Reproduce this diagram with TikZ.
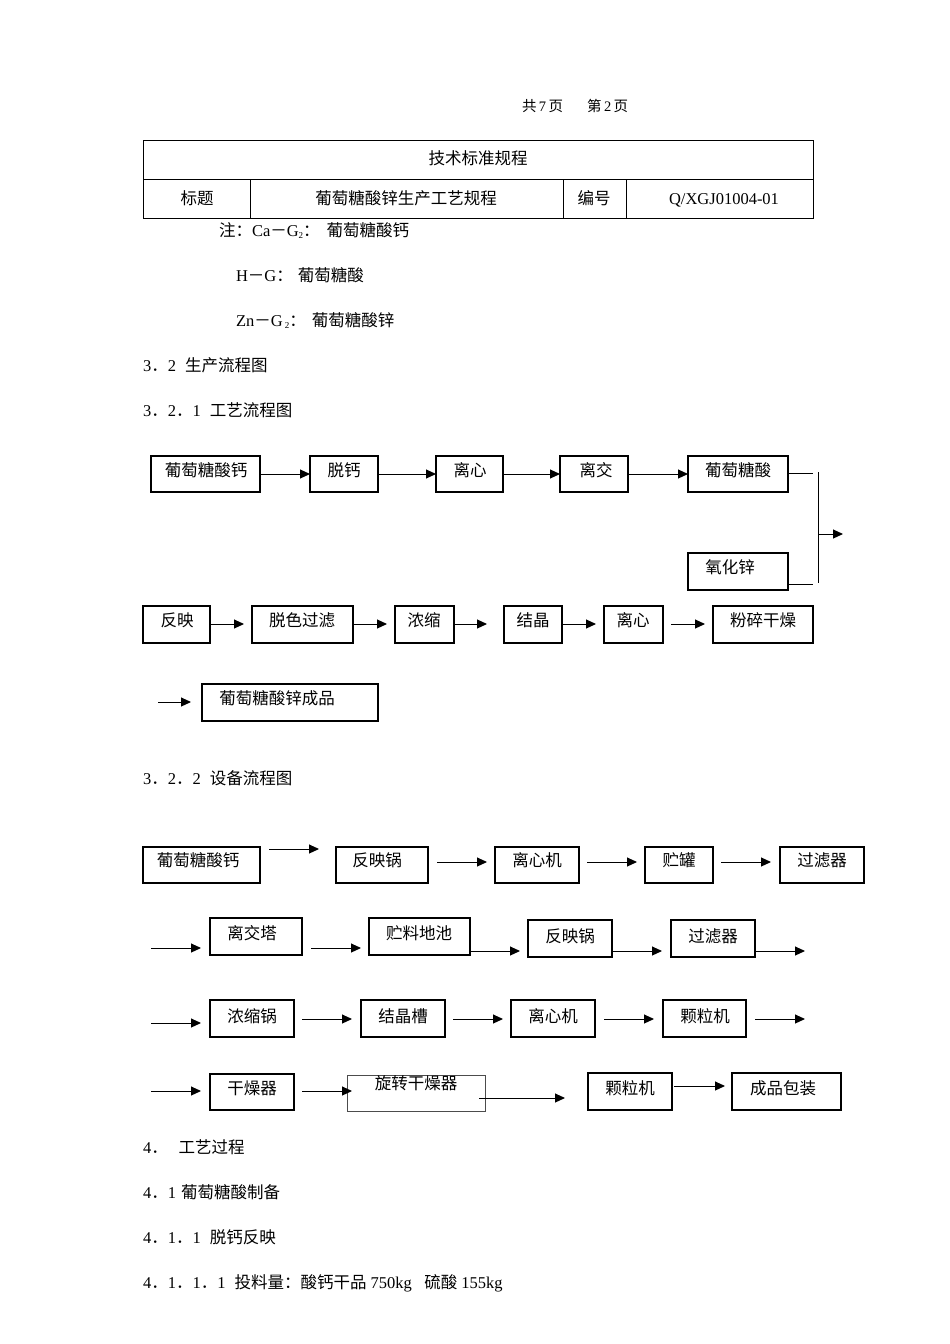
\documentclass[tikz,border=0pt]{standalone}
\usepackage{fontspec}
\setmainfont{Noto Sans CJK SC}
\newfontfamily\latfont{Liberation Serif}
\usetikzlibrary{arrows.meta}
\newcommand\lat[1]{{\latfont #1}}
\newcommand\sub[1]{\raisebox{-2pt}{\latfont\fontsize{9}{9}\selectfont #1}}
\newcommand\gap{\hspace{9pt}}
\tikzset{
  every node/.style={font=\fontsize{16.5}{20}\selectfont, inner sep=0pt, outer sep=0pt, text height=1.1em, text depth=0em},
  box/.style={draw, line width=1.1pt},
  thinbox/.style={draw=black!70, line width=0.6pt},
  arr/.style={line width=1pt, -{Triangle[length=10pt,width=9pt]}},
  ln/.style={line width=0.9pt},
  tab/.style={line width=0.8pt},
}
% box: name, x1, y1, x2, y2, text x, text y, text
\newcommand\bx[8]{%
  \node[box, minimum width={(#4-#2)*1pt}, minimum height={(#5-#3)*1pt}] (#1) at ({(#2+#4)/2},{(#3+#5)/2}) {};
  \node (#1t) at (#6,#7) {#8};}
% arrow: name, x1, x2, y
\newcommand\ar[4]{%
  \coordinate (#1a) at (#2,#4); \coordinate (#1b) at (#3,#4);
  \draw[arr] (#1a) -- (#1b);}
% text: name, x, y, text
\newcommand\tx[4]{\node[anchor=west] (#1) at (#2,#3) {#4};}
\begin{document}
\begin{tikzpicture}[x=1pt,y=-1pt]
\useasboundingbox[fill=white] (0,0) rectangle (950,1344);

% header
\node[anchor=west, font=\fontsize{14.5}{18}\selectfont] (hdr) at (522,106) {共\lat{\,7\,}页\hspace{24pt}第\lat{\,2\,}页};

% table
\coordinate (T1) at (143,140); \coordinate (T2) at (813,218);
\draw[tab] (T1) rectangle (T2);
\coordinate (R1) at (143,179); \coordinate (R2) at (813,179);
\draw[tab] (R1) -- (R2);
\coordinate (C1a) at (250,179); \coordinate (C1b) at (250,218);
\coordinate (C2a) at (563,179); \coordinate (C2b) at (563,218);
\coordinate (C3a) at (626,179); \coordinate (C3b) at (626,218);
\draw[tab] (C1a) -- (C1b) (C2a) -- (C2b) (C3a) -- (C3b);
\node (t1) at (478,159) {技术标准规程};
\node (t2) at (197,199) {标题};
\node (t3) at (406,199) {葡萄糖酸锌生产工艺规程};
\node (t4) at (594,199) {编号};
\node (t5) at (724,199) {\lat{Q/XGJ01004-01}};

% notes
\tx{n1}{219}{231}{注：\lat{Ca}－\lat{G}\sub{2}：\hspace{7pt}葡萄糖酸钙}
\tx{n2}{236}{276}{\lat{H}－\lat{G}：\hspace{5pt}葡萄糖酸}
\tx{n3}{236}{321}{\lat{Zn}－\lat{G}\sub{\ 2}：\hspace{6pt}葡萄糖酸锌}
\tx{s1}{143}{366}{\lat{3}．\lat{2}\gap 生产流程图}
\tx{s2}{143}{411}{\lat{3}．\lat{2}．\lat{1}\gap 工艺流程图}

% process flow row 1
\bx{p1}{151}{456}{260}{492}{206}{471}{葡萄糖酸钙}
\bx{p2}{310}{456}{378}{492}{344}{471}{脱钙}
\bx{p3}{436}{456}{503}{492}{470}{471}{离心}
\bx{p4}{560}{456}{628}{492}{596}{471}{离交}
\bx{p5}{688}{456}{788}{492}{738}{471}{葡萄糖酸}
\bx{p6}{688}{553}{788}{590}{730}{568}{氧化锌}
\ar{a1}{260}{310}{474}
\ar{a2}{378}{436}{474}
\ar{a3}{503}{560}{474}
\ar{a4}{628}{688}{474}
\coordinate (j1) at (813,473); \coordinate (j2) at (813,584);
\coordinate (v1) at (818,472); \coordinate (v2) at (818,583);
\draw[ln] (p5.east |- j1) -- (j1);
\draw[ln] (p6.east |- j2) -- (j2);
\draw[ln] (v1) -- (v2);
\ar{a5}{818}{843}{534}

% process flow row 2
\bx{q1}{143}{606}{210}{643}{177}{621}{反映}
\bx{q2}{252}{606}{353}{643}{302}{621}{脱色过滤}
\bx{q3}{395}{606}{454}{643}{424}{621}{浓缩}
\bx{q4}{504}{606}{562}{643}{533}{621}{结晶}
\bx{q5}{604}{606}{663}{643}{633}{621}{离心}
\bx{q6}{713}{606}{813}{643}{763}{621}{粉碎干燥}
\ar{b1}{210}{244}{624}
\ar{b2}{353}{387}{624}
\ar{b3}{454}{487}{624}
\ar{b4}{562}{596}{624}
\ar{b5}{671}{705}{624}

% row 3
\ar{c1}{158}{191}{702}
\bx{r1}{202}{684}{378}{721}{277}{699}{葡萄糖酸锌成品}

\tx{s3}{143}{779}{\lat{3}．\lat{2}．\lat{2}\gap 设备流程图}

% equipment row 1
\bx{e1}{143}{847}{260}{883}{198}{861}{葡萄糖酸钙}
\bx{e2}{336}{847}{428}{883}{377}{861}{反映锅}
\bx{e3}{495}{847}{579}{883}{537}{861}{离心机}
\bx{e4}{645}{847}{713}{883}{679}{861}{贮罐}
\bx{e5}{780}{847}{864}{883}{822}{861}{过滤器}
\ar{d1}{269}{319}{849}
\ar{d2}{437}{487}{862}
\ar{d3}{587}{637}{862}
\ar{d4}{721}{771}{862}

% equipment row 2
\ar{f0}{151}{201}{948}
\bx{g1}{210}{918}{302}{955}{252}{934}{离交塔}
\ar{f1}{311}{361}{948}
\bx{g2}{369}{918}{470}{955}{419}{934}{贮料地池}
\ar{f2}{470}{520}{951}
\bx{g3}{528}{920}{612}{957}{570}{937}{反映锅}
\ar{f3}{612}{662}{951}
\bx{g4}{671}{920}{755}{957}{713}{937}{过滤器}
\ar{f4}{755}{805}{951}

% equipment row 3
\ar{h0}{151}{201}{1023}
\bx{k1}{210}{1000}{294}{1037}{252}{1017}{浓缩锅}
\ar{h1}{302}{352}{1019}
\bx{k2}{361}{1000}{445}{1037}{403}{1017}{结晶槽}
\ar{h2}{453}{503}{1019}
\bx{k3}{511}{1000}{595}{1037}{553}{1017}{离心机}
\ar{h3}{604}{654}{1019}
\bx{k4}{663}{1000}{746}{1037}{705}{1017}{颗粒机}
\ar{h4}{755}{805}{1019}

% equipment row 4
\ar{m0}{151}{201}{1091}
\bx{w1}{210}{1074}{294}{1110}{252}{1089}{干燥器}
\node[thinbox, minimum width=138pt, minimum height=36pt] (w2) at (416,1093) {};
\node (w2t) at (416,1084) {旋转干燥器};
\ar{m1}{302}{352}{1091}
\ar{m2}{479}{565}{1098}
\bx{w3}{588}{1073}{672}{1110}{630}{1089}{颗粒机}
\ar{m3}{674}{725}{1086}
\bx{w4}{732}{1073}{841}{1110}{783}{1089}{成品包装}

% section text
\tx{u1}{143}{1148}{\lat{4}．\hspace{11pt}工艺过程}
\tx{u2}{143}{1193}{\lat{4}．\lat{1}\hspace{5pt}葡萄糖酸制备}
\tx{u3}{143}{1238}{\lat{4}．\lat{1}．\lat{1}\gap 脱钙反映}
\tx{u4}{143}{1283}{\lat{4}．\lat{1}．\lat{1}．\lat{1}\gap 投料量：酸钙干品\lat{\ 750kg\ \ \ }硫酸\lat{\ 155kg}}
\end{tikzpicture}
\end{document}
